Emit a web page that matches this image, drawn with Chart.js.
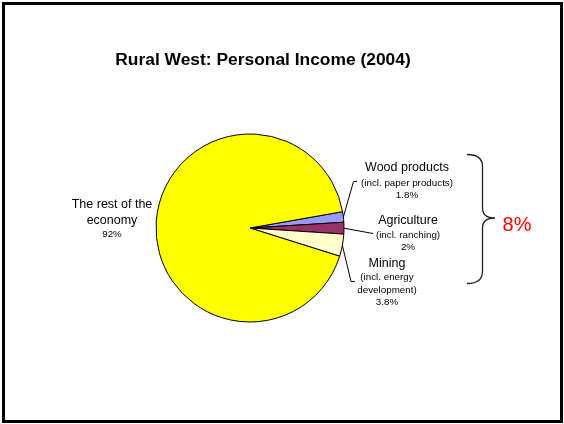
<!DOCTYPE html>
<html>
<head>
<meta charset="utf-8">
<script src="https://cdn.jsdelivr.net/npm/chart.js@4.4.1/dist/chart.umd.min.js"></script>
<style>
html,body{margin:0;padding:0;background:#fff;}
canvas{display:block;}
</style>
</head>
<body>
<canvas id="c" width="564" height="424"></canvas>
<script>
const titleText = 'Rural West: Personal Income (2004)';
const categories = ['Wood products', 'Agriculture', 'Mining', 'The rest of the economy'];
const subLabels = [['(incl. paper products)'], ['(incl. ranching)'], ['(incl. energy', 'development)'], []];
const values = [1.8, 2, 3.8, 92];
const valueLabels = ['1.8%', '2%', '3.8%', '92%'];
const colors = ['#9999FF', '#993366', '#FFFFCC', '#FFFF00'];
const bracketLabel = '8%';

const FONT = '"Liberation Sans", Arial, Helvetica, sans-serif';

const annot = {
  id: 'annot',
  afterDraw(chart) {
    const ctx = chart.ctx;
    const meta = chart.getDatasetMeta(0);
    const arcs = meta.data;
    ctx.save();
    // outer frame
    ctx.strokeStyle = '#000';
    ctx.lineWidth = 3;
    ctx.strokeRect(3.5, 3.5, 558, 418);
    // title
    ctx.fillStyle = '#000';
    ctx.textAlign = 'center';
    ctx.textBaseline = 'middle';
    ctx.font = 'bold 17.4px ' + FONT;
    ctx.fillText(titleText, 263, 60);

    const blocks = [
      {x: 407, y: 168, sub: [183.5], val: 195.5},
      {x: 408, y: 221, sub: [235.5], val: 247.5},
      {x: 387, y: 263.5, sub: [277.5, 290], val: 302.5},
      {x: 112, y: 204.5, sub: [], val: 234.5, extra: 'economy', extraY: 221}
    ];
    blocks.forEach((b, i) => {
      ctx.fillStyle = '#000';
      ctx.font = '12.5px ' + FONT;
      if (i === 3) {
        ctx.fillText('The rest of the', b.x, b.y);
        ctx.fillText(b.extra, b.x, b.extraY);
      } else {
        ctx.fillText(categories[i], b.x, b.y);
      }
      ctx.font = '9.8px ' + FONT;
      subLabels[i].forEach((s, k) => ctx.fillText(s, b.x, b.sub[k]));
      ctx.fillText(valueLabels[i], b.x, b.val);
    });

    // leader lines from arcs
    ctx.strokeStyle = '#000';
    ctx.lineWidth = 1;
    const edge = (i) => {
      const a = arcs[i];
      const ang = (a.startAngle + a.endAngle) / 2;
      return [a.x + a.outerRadius * Math.cos(ang), a.y + a.outerRadius * Math.sin(ang)];
    };
    let p = edge(0);
    ctx.beginPath(); ctx.moveTo(p[0], p[1]); ctx.lineTo(353.5, 181.5); ctx.lineTo(357, 181.5); ctx.stroke();
    p = edge(1);
    ctx.beginPath(); ctx.moveTo(p[0], p[1]); ctx.lineTo(373, 233.5); ctx.stroke();
    p = edge(2);
    ctx.beginPath(); ctx.moveTo(p[0], p[1]); ctx.lineTo(351, 281.5); ctx.lineTo(355, 281.5); ctx.stroke();

    // curly brace
    ctx.strokeStyle = '#222';
    ctx.lineWidth = 1.3;
    const bx = 482.5, tipX = 495, top = 154.5, bot = 283.5, mid = 218;
    ctx.beginPath();
    ctx.moveTo(467, top);
    ctx.quadraticCurveTo(bx, top, bx, top + 12);
    ctx.lineTo(bx, mid - 10);
    ctx.quadraticCurveTo(bx, mid, tipX, mid);
    ctx.quadraticCurveTo(bx, mid, bx, mid + 10);
    ctx.lineTo(bx, bot - 12);
    ctx.quadraticCurveTo(bx, bot, 467, bot);
    ctx.stroke();

    ctx.fillStyle = '#FF0000';
    ctx.font = '20px ' + FONT;
    ctx.fillText(bracketLabel, 517, 225);
    ctx.restore();
  }
};

new Chart(document.getElementById('c'), {
  type: 'pie',
  data: {
    labels: categories,
    datasets: [{
      data: values,
      backgroundColor: colors,
      borderColor: '#000',
      borderWidth: 1,
      hoverOffset: 0
    }]
  },
  options: {
    responsive: false,
    animation: false,
    rotation: 80,
    layout: {padding: {left: 100, right: 164, top: 133.5, bottom: 101.5}},
    plugins: {legend: {display: false}, title: {display: false}, tooltip: {enabled: false}}
  },
  plugins: [annot]
});
</script>
</body>
</html>
